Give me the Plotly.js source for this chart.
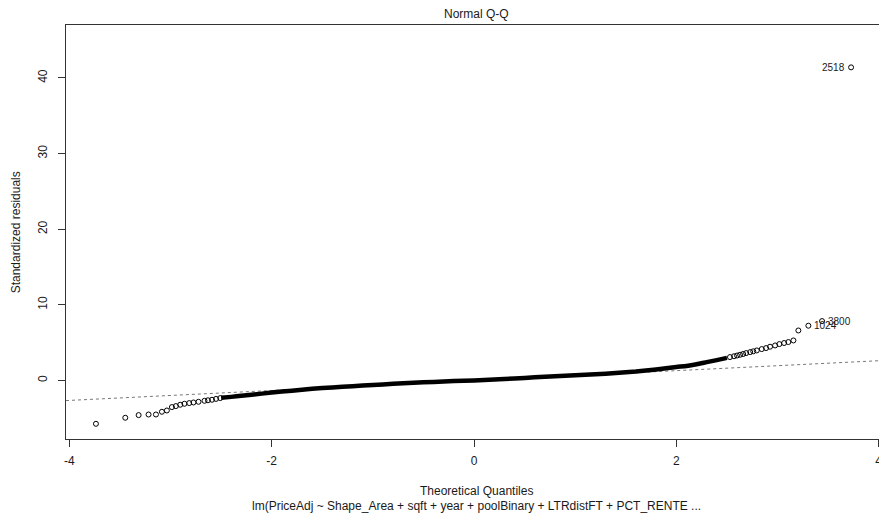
<!DOCTYPE html>
<html>
<head>
<meta charset="utf-8">
<script src="https://cdn.plot.ly/plotly-3.0.1.min.js"></script>
<style>
  html, body { margin: 0; padding: 0; background: #fff; }
  #chart { width: 879px; height: 519px; }
</style>
</head>
<body>
<div id="chart"></div>
<script>
// ---- data ----
// dense central band of the Q-Q plot (theoretical quantile, standardized residual)
const bandX = [-2.5, -2.4, -2.3, -2.2, -2.0, -1.8, -1.6, -1.4, -1.2, -1.0, -0.8, -0.6, -0.4, -0.2, 0.0,
               0.2, 0.4, 0.6, 0.8, 1.0, 1.2, 1.4, 1.6, 1.8, 2.0, 2.1, 2.2, 2.3, 2.4, 2.5];
const bandY = [-2.30, -2.17, -2.03, -1.89, -1.60, -1.35, -1.10, -0.92, -0.76, -0.60, -0.45, -0.31, -0.19, -0.08, 0.01,
               0.13, 0.27, 0.41, 0.55, 0.69, 0.83, 0.98, 1.17, 1.45, 1.78, 1.92, 2.14, 2.42, 2.69, 2.98];

// individually visible points in the lower tail
const lowTailX = [-3.737, -3.447, -3.315, -3.217, -3.144, -3.085, -3.036, -2.986, -2.947, -2.904,
                  -2.862, -2.815, -2.773, -2.723, -2.664, -2.63, -2.59, -2.55, -2.508];
const lowTailY = [-5.73, -4.93, -4.58, -4.50, -4.50, -4.14, -3.97, -3.52, -3.39, -3.21,
                  -3.08, -2.99, -2.91, -2.82, -2.69, -2.62, -2.55, -2.44, -2.33];

// individually visible points in the upper tail
const highTailX = [2.53, 2.57, 2.60, 2.63, 2.66, 2.69, 2.73, 2.76, 2.795, 2.844, 2.887, 2.926, 2.976,
                   3.018, 3.065, 3.107, 3.157, 3.206, 3.305, 3.44, 3.727];
const highTailY = [3.09, 3.20, 3.30, 3.40, 3.50, 3.62, 3.75, 3.85, 3.97, 4.15, 4.28, 4.46, 4.63,
                   4.81, 4.95, 5.08, 5.29, 6.61, 7.24, 7.85, 41.4];

// labelled outliers
const outlierIds = ['2518', '3800', '1024'];
const outlierX = [3.727, 3.44, 3.305];
const outlierY = [41.4, 7.85, 7.24];

// reference (qq) line end points
const refLineX = [-4.033, 4.003];
const refLineY = [-2.66, 2.61];

// ticks and texts
const xTickVals = [-4, -2, 0, 2, 4];
const xTickText = ['-4', '-2', '0', '2', '4'];
const yTickVals = [0, 10, 20, 30, 40];
const yTickText = ['0', '10', '20', '30', '40'];
const titleText = 'Normal Q-Q';
const xTitleText = 'Theoretical Quantiles';
const subTitleText = 'lm(PriceAdj ~ Shape_Area + sqft + year + poolBinary + LTRdistFT + PCT_RENTE ...';
const yTitleText = 'Standardized residuals';

// ---- drawing ----
const FONT = 'Liberation Sans, Arial, sans-serif';
const ink = '#1a1a1a';

const traces = [
  {
    x: refLineX, y: refLineY, type: 'scatter', mode: 'lines',
    line: { color: '#777', width: 1, dash: 'dot' }, hoverinfo: 'skip'
  },
  {
    x: bandX, y: bandY, type: 'scatter', mode: 'lines',
    line: { color: '#000', width: 4.5, shape: 'spline', smoothing: 0.6 }
  },
  {
    x: lowTailX.concat(highTailX), y: lowTailY.concat(highTailY),
    type: 'scatter', mode: 'markers',
    marker: { symbol: 'circle-open', size: 5, color: '#000', line: { width: 1, color: '#000' } }
  }
];

const annotations = [];
outlierIds.forEach((id, i) => {
  const left = i === 0;
  annotations.push({
    x: outlierX[i], y: outlierY[i], xref: 'x', yref: 'y',
    text: id, showarrow: false,
    xanchor: left ? 'right' : 'left', yanchor: 'middle',
    xshift: left ? -4 : 4,
    font: { family: FONT, size: 10, color: ink }
  });
});
annotations.push({
  x: 0.02, xref: 'x', y: 1.0266, yref: 'paper', text: titleText, showarrow: false,
  xanchor: 'center', yanchor: 'middle', font: { family: FONT, size: 12, color: ink }
});
annotations.push({
  x: 0.02, xref: 'x', y: -0.1256, yref: 'paper', text: xTitleText, showarrow: false,
  xanchor: 'center', yanchor: 'middle', font: { family: FONT, size: 12, color: ink }
});
annotations.push({
  x: 0.02, xref: 'x', y: -0.1618, yref: 'paper', text: subTitleText, showarrow: false,
  xanchor: 'center', yanchor: 'middle', font: { family: FONT, size: 12, color: ink }
});
annotations.push({
  x: -0.0611, xref: 'paper', y: 0.5, yref: 'paper', text: yTitleText, showarrow: false,
  textangle: -90, xanchor: 'center', yanchor: 'middle', font: { family: FONT, size: 12, color: ink }
});

const layout = {
  width: 879, height: 519,
  margin: { l: 66, r: 0, t: 25, b: 80, pad: 0 },
  paper_bgcolor: '#fff', plot_bgcolor: '#fff',
  showlegend: false,
  font: { family: FONT, size: 12, color: ink },
  xaxis: {
    range: [-4.033, 4.003], showgrid: false, zeroline: false,
    showline: true, mirror: true, linecolor: '#333', linewidth: 1,
    ticks: 'outside', ticklen: 7, tickcolor: '#333', tickwidth: 1,
    tickmode: 'array', tickvals: xTickVals, ticktext: xTickText,
    tickfont: { family: FONT, size: 12, color: ink },
    ticklabelstandoff: 4, ticklabeloverflow: 'allow'
  },
  yaxis: {
    range: [-7.74, 47.0], showgrid: false, zeroline: false,
    showline: true, mirror: false, linecolor: '#333', linewidth: 1,
    ticks: 'outside', ticklen: 7, tickcolor: '#333', tickwidth: 1,
    tickmode: 'array', tickvals: yTickVals, ticktext: yTickText,
    tickangle: -90,
    tickfont: { family: FONT, size: 12, color: ink },
    ticklabelstandoff: 6
  },
  annotations: annotations
};

Plotly.newPlot('chart', traces, layout, { staticPlot: true, displayModeBar: false });
</script>
</body>
</html>
